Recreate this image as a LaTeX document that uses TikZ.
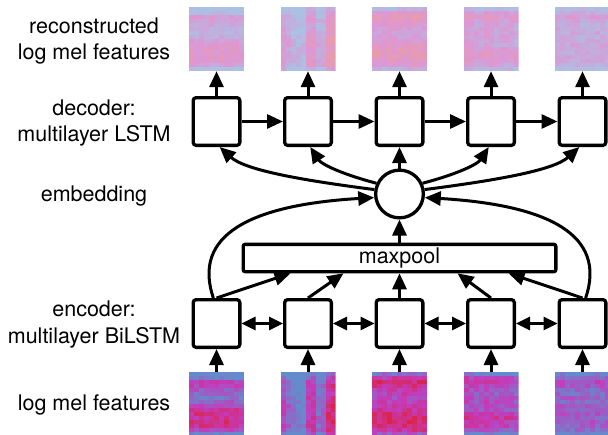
\documentclass[tikz,border=0pt]{standalone}
\usepackage{fontspec}
\setmainfont{TeX Gyre Heros}
\usetikzlibrary{arrows.meta,calc}
\definecolor{dB}{RGB}{100,140,205}
\definecolor{dM}{RGB}{195,60,190}
\definecolor{dR}{RGB}{226,30,45}
\definecolor{lB}{RGB}{172,192,228}
\definecolor{lM}{RGB}{222,150,212}
\definecolor{lR}{RGB}{236,160,150}
% #1 centre x, #2 centre y, #3 row profile (16), #4 column profile (11), #5 palette, #6 seed
\newcommand\spectro[6]{%
  \pgfmathsetseed{#6}%
  \begin{scope}
    \clip (#1-27.5,#2-32) rectangle (#1+27.5,#2+32);
    \foreach \r in {0,...,15}{
      \foreach \c in {0,...,10}{
        \pgfmathsetmacro\rp{{#3}[\r]}%
        \pgfmathsetmacro\cp{{#4}[\c]}%
        \pgfmathsetmacro\vv{max(0,min(99.9,\rp+\cp+30*rnd-27))}%
        \ifdim\vv pt<50pt
          \pgfmathtruncatemacro\pp{2*\vv}\def\cc{#5M!\pp!#5B}%
        \else
          \pgfmathtruncatemacro\pp{2*(\vv-50)}\def\cc{#5R!\pp!#5M}%
        \fi
        \fill[fill=\cc] (#1-27.5+5*\c,#2-32+4*\r) rectangle ++(5.4,4.4);
      }
    }
  \end{scope}
}
\begin{document}
\begin{tikzpicture}[x=1pt,y=-1pt,
  every node/.style={font=\fontsize{21.5}{26.6}\selectfont},
  cell/.style={draw, line width=3.3pt, rounded corners=3pt, minimum width=46.7pt, minimum height=47.7pt, inner sep=0pt, fill=white},
  embc/.style={circle, draw, line width=3.3pt, minimum size=47.7pt, inner sep=0pt, fill=white},
  pool/.style={draw, line width=3.3pt, rounded corners=2pt, minimum width=312.7pt, minimum height=27.3pt, inner sep=0pt, fill=white},
  arr/.style={line width=3pt, -{Triangle[length=16pt,width=14pt]}},
  biarr/.style={line width=3pt, {Triangle[length=14pt,width=13pt]}-{Triangle[length=14pt,width=13pt]}},
  specbox/.style={minimum width=55pt, minimum height=64pt, inner sep=0pt},
  lab/.style={align=center, inner sep=0pt}]
\useasboundingbox (0,0) rectangle (608,434);

% spectrograms (reconstructed, top)
\spectro{216.5}{39}{5,15,60,55,45,35,30,40,55,65,70,65,75,70,50,10}{0,0,0,0,0,0,0,0,0,-5,-10}{l}{11}
\spectro{308}{39}{10,25,40,45,40,40,45,50,55,55,55,55,55,55,50,25}{5,-10,-25,-30,-30,15,20,-15,-10,30,35}{l}{12}
\spectro{399.5}{39}{20,60,80,65,55,50,45,50,55,65,75,80,75,70,60,30}{5,5,5,5,5,5,5,5,5,5,5}{l}{13}
\spectro{491}{39}{15,55,65,55,45,45,50,50,45,45,60,70,65,60,45,20}{10,5,0,0,5,5,0,-5,0,0,-5}{l}{14}
\spectro{582.5}{39}{15,35,55,45,35,35,40,35,40,40,45,40,45,40,30,10}{0,0,0,0,0,0,0,0,0,0,0}{l}{15}
% spectrograms (input, bottom)
\spectro{216.5}{404}{5,15,65,60,45,35,30,40,55,75,80,75,85,80,60,15}{0,0,0,0,0,0,0,0,0,-5,-10}{d}{21}
\spectro{308}{404}{10,25,40,45,40,40,45,50,55,55,55,55,55,55,50,25}{5,-10,-30,-35,-35,15,20,-20,-10,30,35}{d}{22}
\spectro{399.5}{404}{25,60,85,75,60,55,50,55,60,70,80,85,85,80,70,40}{5,5,5,5,5,5,5,5,5,5,5}{d}{23}
\spectro{491}{404}{15,55,65,55,45,45,50,50,45,45,60,70,65,60,45,20}{10,5,0,0,5,5,0,-5,0,0,-5}{d}{24}
\spectro{582.5}{404}{15,35,55,45,35,35,40,35,40,40,45,40,45,40,30,10}{0,0,0,0,0,0,0,0,0,0,0}{d}{25}

\foreach \i/\x in {1/216.5,2/308,3/399.5,4/491,5/582.5}{
  \node[specbox] (t\i) at (\x,39) {};
  \node[specbox] (b\i) at (\x,404) {};
  \node[cell] (d\i) at (\x,121.5) {};
  \node[cell] (e\i) at (\x,323.5) {};
}
\node[embc] (emb) at (399.5,194) {};
\node[pool] (mp) at (399.5,258) {maxpool};

% labels
\node[lab] (l1) at (94,41) {reconstructed\\log mel features};
\node[lab] (l2) at (94,123) {decoder:\\multilayer LSTM};
\node[lab] (l3) at (94,196) {embedding};
\node[lab] (l4) at (94,324.5) {encoder:\\multilayer BiLSTM};
\node[lab] (l5) at (94,404.5) {log mel features};

% connectors
\foreach \i in {1,...,5}{
  \draw[arr] (d\i) -- (t\i);
  \draw[arr] (b\i) -- (e\i);
}
\foreach \i/\j in {1/2,2/3,3/4,4/5}{
  \draw[arr] (d\i) -- (d\j);
  \draw[biarr] (e\i) -- (e\j);
}
\draw[arr] (e1.north) -- ($(mp.south)+(-109,0)$);
\draw[arr] (e2.north) -- ($(mp.south)+(-56,0)$);
\draw[arr] (e3) -- (mp);
\draw[arr] (e4.north) -- ($(mp.south)+(58,0)$);
\draw[arr] (e5.north) -- ($(mp.south)+(109,0)$);
\draw[arr] (mp) -- (emb);
\draw[arr] (emb) -- (d3);
\draw[arr] (e1.97) .. controls (192,235) and (250,205) .. (emb.188);
\draw[arr] (e5.83) .. controls (607,235) and (549,205) .. (emb.352);
\draw[arr] (emb.170) .. controls (300,180) and (245,170) .. (d1.-83);
\draw[arr] (emb.155) .. controls (345,175) and (322,165) .. (d2.-85);
\draw[arr] (emb.25) .. controls (454,175) and (477,165) .. (d4.-95);
\draw[arr] (emb.10) .. controls (499,180) and (554,170) .. (d5.-97);
\end{tikzpicture}
\end{document}
